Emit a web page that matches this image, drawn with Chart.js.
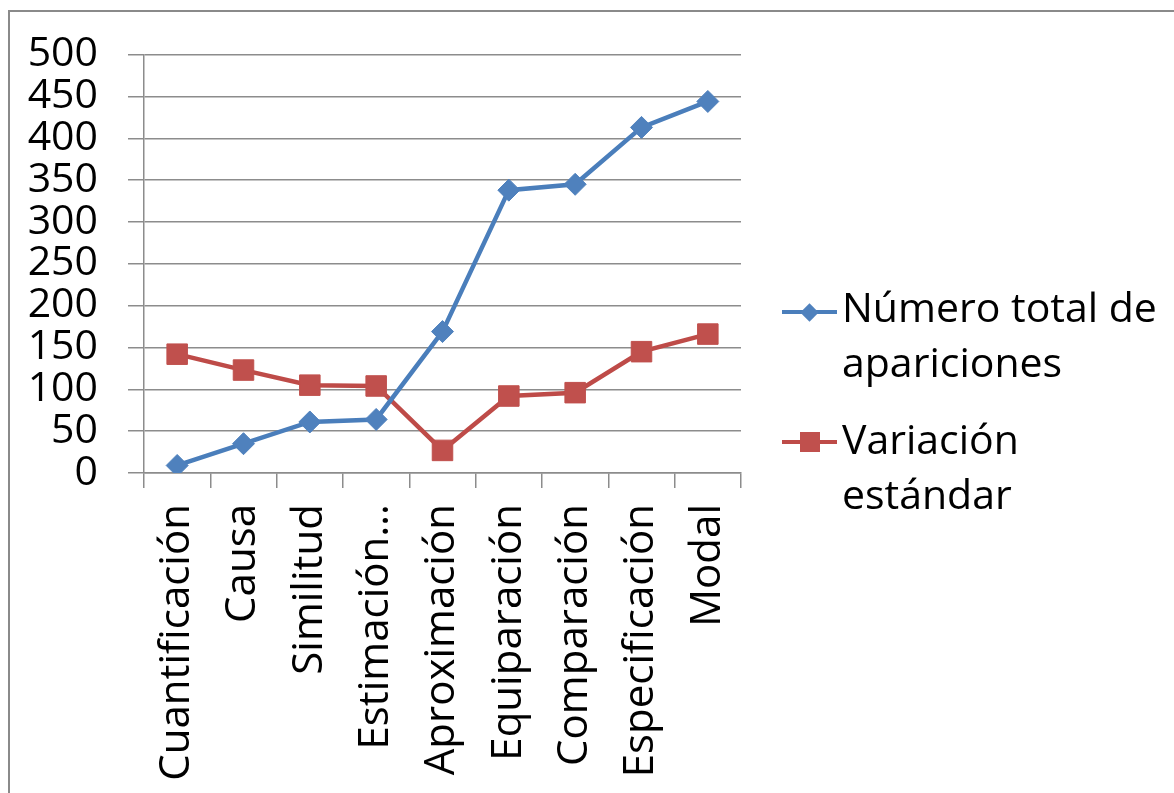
<!DOCTYPE html>
<html>
<head>
<meta charset="utf-8">
<script src="https://cdn.jsdelivr.net/npm/chart.js@4/dist/chart.umd.min.js"></script>
<style>
  html, body { margin: 0; padding: 0; background: #fff; }
  body { width: 1174px; height: 793px; position: relative; overflow: hidden; font-family: "Open Sans", sans-serif; }
  #frame { position: absolute; left: 8px; top: 10px; width: 1200px; height: 820px; border-left: 2px solid #8a8a8a; border-top: 2px solid #8a8a8a; box-sizing: border-box; }
  #wrap { position: absolute; left: 0; top: 0; width: 1174px; height: 793px; }
  .leg { position: absolute; left: 782px; font-size: 41px; line-height: 55px; color: #000; }
  .leg .txt { position: absolute; left: 60px; top: 0; white-space: nowrap; }
  .leg .ln { position: absolute; left: 0; width: 55px; height: 4px; }
  .leg .mk { position: absolute; }
</style>
</head>
<body>
<div id="frame"></div>
<div id="wrap"><canvas id="c" width="1174" height="793"></canvas></div>
<div id="legend"></div>
<script>
const categories = ["Cuantificación", "Causa", "Similitud", "Estimación…", "Aproximación", "Equiparación", "Comparación", "Especificación", "Modal"];
const totalApariciones = [9, 35, 61, 64, 169, 338, 345, 413, 444];
const variacionEstandar = [142, 123, 105, 104, 27, 92, 96, 145, 166];
const seriesNames = ["Número total de apariciones", "Variación estándar"];
const seriesLegendLines = [["Número total de", "apariciones"], ["Variación", "estándar"]];
const yTicks = [0, 50, 100, 150, 200, 250, 300, 350, 400, 450, 500];

const blue = "#4A7EBB", blueFill = "#4F81BD";
const red = "#BE4B48", redFill = "#C0504D";
const grid = "#8c8c8c";
const font = { family: "'Open Sans', sans-serif", size: 41 };
const xFont = { family: "'Open Sans', sans-serif", size: 42 };

new Chart(document.getElementById("c"), {
  type: "line",
  data: {
    labels: categories,
    datasets: [
      { label: seriesNames[0], data: totalApariciones, borderColor: blue, backgroundColor: blueFill,
        borderWidth: 4.5, pointStyle: "rectRot", pointRadius: 11, pointBorderWidth: 1, pointBorderColor: blueFill,
        pointBackgroundColor: blueFill, tension: 0 },
      { label: seriesNames[1], data: variacionEstandar, borderColor: red, backgroundColor: redFill,
        borderWidth: 4.5, pointStyle: "rect", pointRadius: 14.5, pointBorderWidth: 1, pointBorderColor: redFill,
        pointBackgroundColor: redFill, tension: 0 }
    ]
  },
  options: {
    responsive: false,
    animation: false,
    layout: { padding: { left: 0, top: 54, right: 433, bottom: 0 } },
    plugins: { legend: { display: false }, tooltip: { enabled: false } },
    scales: {
      x: {
        type: "category",
        offset: true,
        grid: { display: true, drawOnChartArea: false, drawTicks: true, tickLength: 15, color: grid, offset: true, lineWidth: 1.5 },
        border: { display: true, color: grid, width: 1.5 },
        ticks: { font: xFont, color: "#000", maxRotation: 90, minRotation: 90, autoSkip: false, padding: 16 },
        afterFit: (s) => { s.height = 320; }
      },
      y: {
        min: 0, max: 500,
        afterBuildTicks: (s) => { s.ticks = yTicks.map(v => ({ value: v })); },
        grid: { color: grid, tickLength: 16, lineWidth: 1.5 },
        border: { display: true, color: grid, width: 1.5 },
        ticks: { font: font, color: "#000", padding: 30, autoSkip: false },
        afterFit: (s) => { s.width = 144; }
      }
    }
  }
});

// HTML legend built from series names
const legend = document.getElementById("legend");
const legTops = [279, 411];
const legColors = [[blue, blueFill, "diamond"], [red, redFill, "square"]];
seriesLegendLines.forEach((lines, i) => {
  const d = document.createElement("div");
  d.className = "leg";
  d.style.top = legTops[i] + "px";
  const ln = document.createElement("div");
  ln.className = "ln";
  ln.style.background = legColors[i][0];
  ln.style.top = (i === 0 ? 31 : 29) + "px";
  d.appendChild(ln);
  const mk = document.createElement("div");
  mk.className = "mk";
  mk.style.background = legColors[i][1];
  if (legColors[i][2] === "diamond") {
    mk.style.width = "13px"; mk.style.height = "13px";
    mk.style.left = (27.5 - 6.5) + "px"; mk.style.top = (33 - 6.5) + "px";
    mk.style.transform = "rotate(45deg)";
  } else {
    mk.style.width = "20px"; mk.style.height = "20px";
    mk.style.left = (27.5 - 10) + "px"; mk.style.top = (31 - 10) + "px";
  }
  d.appendChild(mk);
  const t = document.createElement("div");
  t.className = "txt";
  t.innerHTML = lines.join("<br>");
  d.appendChild(t);
  legend.appendChild(d);
});
</script>
</body>
</html>
